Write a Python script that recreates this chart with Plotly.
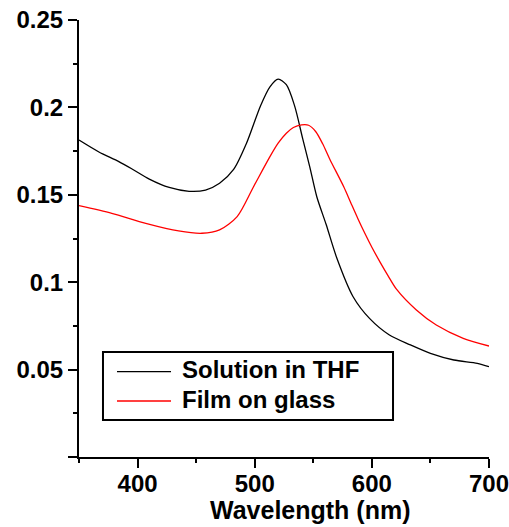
import plotly.graph_objects as go

# Solution in THF (black)
wl_thf = [350, 367, 384, 396, 410, 427, 444, 458, 470, 482, 493, 505, 513, 520, 527,
          534, 541, 547, 553, 561, 570, 584, 598, 615, 633, 650, 670, 690, 700]
abs_thf = [0.1813, 0.1745, 0.1690, 0.1645, 0.1590, 0.1542, 0.1520, 0.1527, 0.1566, 0.1645,
           0.1795, 0.2010, 0.2118, 0.2162, 0.2130, 0.2010, 0.1820, 0.1660, 0.1489, 0.1330,
           0.1140, 0.0917, 0.0793, 0.0698, 0.0641, 0.0593, 0.0555, 0.0536, 0.0517]

# Film on glass (red)
wl_film = [350, 378, 407, 435, 455, 470, 485, 499, 513, 520, 527, 533, 540, 546, 552,
           558, 564, 576, 582, 588, 594, 600, 607, 614, 621, 638, 655, 678, 700]
abs_film = [0.1438, 0.1394, 0.1337, 0.1293, 0.1280, 0.1299, 0.1375, 0.1546, 0.1718, 0.1795,
            0.1852, 0.1885, 0.1900, 0.1898, 0.1862, 0.1792, 0.1705, 0.1546, 0.1455, 0.1365,
            0.1280, 0.1200, 0.1115, 0.1035, 0.0960, 0.0841, 0.0755, 0.0679, 0.0635]

series_names = ["Solution in THF", "Film on glass"]
series_colors = ["#000000", "#ff0000"]

x_ticks = [400, 500, 600, 700]
x_minor = [350, 450, 550, 650]
y_ticks = [0, 0.05, 0.1, 0.15, 0.2, 0.25]
y_ticktext = ["", "0.05", "0.1", "0.15", "0.2", "0.25"]
y_minor = [0.025, 0.075, 0.125, 0.175, 0.225]

FONT = "Liberation Sans, Arial, sans-serif"

fig = go.Figure()
for wl, ab, name, col in [(wl_thf, abs_thf, series_names[0], series_colors[0]),
                          (wl_film, abs_film, series_names[1], series_colors[1])]:
    fig.add_trace(go.Scatter(x=wl, y=ab, mode="lines", name=name,
                             line=dict(color=col, width=1.3, shape="spline", smoothing=0.8),
                             showlegend=False))

axis_common = dict(showline=True, linecolor="black", linewidth=2, showgrid=False,
                   zeroline=False, ticks="outside", ticklen=9, tickwidth=2,
                   tickcolor="black", mirror=False, automargin=False,
                   ticklabeloverflow="allow",
                   tickfont=dict(family=FONT, size=24, color="black", weight="bold"))

fig.update_xaxes(range=[350, 700], tickmode="array", tickvals=x_ticks,
                 ticktext=[str(v) for v in x_ticks], ticklabelstandoff=-5,
                 minor=dict(tickvals=x_minor, ticklen=4, tickwidth=2, tickcolor="black",
                            ticks="outside"),
                 **axis_common)
fig.update_yaxes(range=[0, 0.25], tickmode="array", tickvals=y_ticks, ticktext=y_ticktext,
                 minor=dict(tickvals=y_minor, ticklen=4, tickwidth=2, tickcolor="black",
                            ticks="outside"),
                 **axis_common)

# legend box (manual)
fig.add_shape(type="rect", xref="paper", yref="paper", x0=0.0585, x1=0.7659,
              y0=0.0847, y1=0.2403, line=dict(color="black", width=2),
              fillcolor="white", layer="above")
leg_y = [0.1952, 0.1281]
for name, col, yy in zip(series_names, series_colors, leg_y):
    fig.add_shape(type="line", xref="paper", yref="paper", x0=0.0927, x1=0.2244,
                  y0=yy, y1=yy, line=dict(color=col, width=1.3), layer="above")
    fig.add_annotation(text=name, xref="paper", yref="paper", x=0.2463, y=yy + 0.004,
                       xanchor="left", yanchor="middle", showarrow=False,
                       font=dict(family=FONT, size=24, color="black", weight="bold"))

fig.add_annotation(text="Wavelength (nm)", xref="paper", yref="paper", x=0.5634, y=-0.122,
                   xanchor="center", yanchor="middle", showarrow=False,
                   font=dict(family=FONT, size=25, color="black", weight="bold"))

fig.update_layout(width=509, height=527, margin=dict(l=79, r=20, t=20, b=70),
                  plot_bgcolor="white", paper_bgcolor="white", showlegend=False)

fig.write_html("out.html")
